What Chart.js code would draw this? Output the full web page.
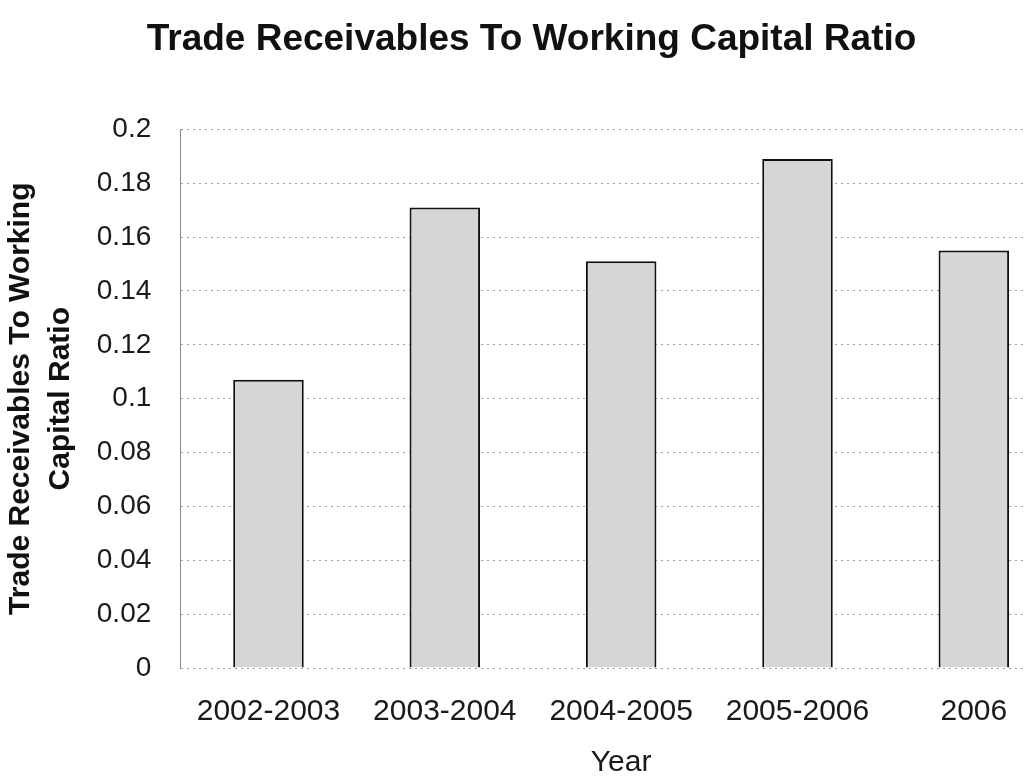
<!DOCTYPE html>
<html>
<head>
<meta charset="utf-8">
<script src="https://cdn.jsdelivr.net/npm/chart.js@4"></script>
<style>
  html, body { margin: 0; padding: 0; background: #fff; overflow: hidden; }
  #wrap { width: 1062px; height: 778px; }
</style>
</head>
<body>
<div id="wrap"><canvas id="myChart"></canvas></div>
<script>
const years = ["2002-2003", "2003-2004", "2004-2005", "2005-2006", "2006"];
const ratios = [0.107, 0.171, 0.151, 0.189, 0.155];
const chartTitle = "Trade Receivables To Working Capital Ratio";
const yTitle = ["Trade Receivables To Working", "Capital Ratio"];
const xTitle = "Year";

Chart.defaults.font.family = "'Liberation Sans', Arial, sans-serif";
Chart.defaults.color = "#111";

const ctx = document.getElementById("myChart");

new Chart(ctx, {
  type: "bar",
  data: {
    labels: years,
    datasets: [
      {
        label: "Ratio",
        data: ratios,
        backgroundColor: "#d6d6d6",
        borderColor: "#111",
        borderWidth: 2,
        barPercentage: 0.4,
        categoryPercentage: 1,
      },
    ],
  },
  options: {
    responsive: true,
    maintainAspectRatio: false,
    animation: false,
    layout: {
      padding: { top: 0, right: 0, bottom: 0, left: 1 },
    },
    plugins: {
      legend: { display: false },
      tooltip: { enabled: false },
      title: {
        display: true,
        text: chartTitle,
        font: { size: 37, weight: "bold" },
        color: "#111",
        padding: { top: 18, bottom: 67 },
      },
    },
    scales: {
      x: {
        grid: { display: false },
        border: { display: false },
        ticks: {
          padding: 18,
          font: { size: 30 },
          color: "#1a1a1a",
        },
        title: {
          display: true,
          text: xTitle,
          font: { size: 30, lineHeight: 1 },
          color: "#1a1a1a",
          padding: { top: 0, bottom: 0 },
        },
      },
      y: {
        min: 0,
        max: 0.2,
        ticks: {
          stepSize: 0.02,
          padding: 29,
          font: { size: 28 },
          color: "#1a1a1a",
          callback: (v) => Number(v.toFixed(2)).toString(),
        },
        grid: {
          color: "#a0a0a0",
          lineWidth: 1,
          drawTicks: false,
        },
        border: { display: true, color: "#888", dash: [2, 4] },
        title: {
          display: true,
          text: yTitle,
          font: { size: 30, weight: "bold", lineHeight: 1.33 },
          color: "#111",
          padding: { top: 0, bottom: -13 },
        },
      },
    },
  },
  plugins: [
    {
      id: "dashedGrid",
      beforeDraw(chart) {
        chart.options.scales.y.grid.borderDash = [4, 5];
      },
    },
  ],
});
</script>
</body>
</html>
